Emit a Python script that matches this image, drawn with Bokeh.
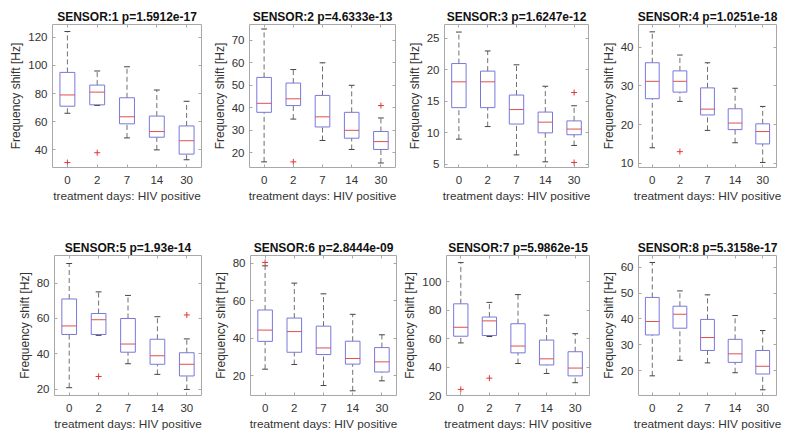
import numpy as np
from bokeh.plotting import figure
from bokeh.models import Range1d, FixedTicker, LinearAxis
from bokeh.layouts import column, row
from bokeh.embed import file_html
from bokeh.resources import INLINE

# ---------------- data ----------------
days = ["0", "2", "7", "14", "30"]
titles = ["SENSOR:1 p=1.5912e-17", "SENSOR:2 p=4.6333e-13",
          "SENSOR:3 p=1.6247e-12", "SENSOR:4 p=1.0251e-18",
          "SENSOR:5 p=1.93e-14", "SENSOR:6 p=2.8444e-09",
          "SENSOR:7 p=5.9862e-15", "SENSOR:8 p=5.3158e-17"]
xlabel = "treatment days: HIV positive"
ylabel = "Frequency shift [Hz]"

s1_lower = [66, 71.5, 48.5, 40, 33]
s1_q1 = [71, 72, 58.5, 49, 37]
s1_med = [79, 81, 63.5, 53, 46.5]
s1_q3 = [95, 86, 77, 64, 57]
s1_upper = [124, 96, 99, 82.5, 74.5]
s1_out_day = ["0", "2"]
s1_out_val = [31, 38]

s2_lower = [16, 35, 25.5, 21.5, 15.5]
s2_q1 = [38, 41, 31.5, 26.5, 21.5]
s2_med = [42, 44, 36, 30, 25]
s2_q3 = [53.5, 51, 45.5, 38, 29.5]
s2_upper = [75, 57, 60, 50, 35.5]
s2_out_day = ["2", "30"]
s2_out_val = [16, 41]

s3_lower = [9, 11, 6.5, 5.4, 8]
s3_q1 = [14, 14, 11.4, 10, 9.7]
s3_med = [18.1, 18.1, 13.7, 11.7, 10.6]
s3_q3 = [21, 19.8, 16, 13.3, 11.9]
s3_upper = [26, 23, 20.8, 17.4, 14.3]
s3_out_day = ["30", "30"]
s3_out_val = [16.4, 5.3]

s4_lower = [14, 26, 18.5, 15.3, 10.2]
s4_q1 = [26.7, 28.4, 22.5, 18.7, 15]
s4_med = [31.2, 31.2, 24, 20.4, 18.2]
s4_q3 = [36, 33.9, 29.5, 24.1, 20.2]
s4_upper = [44, 38, 36, 29.4, 24.7]
s4_out_day = ["2"]
s4_out_val = [13]

s5_lower = [21, 50.5, 34.5, 28.5, 20]
s5_q1 = [51, 51, 41, 34.2, 27.6]
s5_med = [55.8, 59.3, 45.6, 39, 34.2]
s5_q3 = [71, 62.8, 60, 48.3, 40.7]
s5_upper = [91, 75, 73, 61, 48.5]
s5_out_day = ["2", "30"]
s5_out_val = [27.3, 62]

s6_lower = [23.5, 26, 14.8, 12, 17.3]
s6_q1 = [38.3, 32.5, 31.3, 26.2, 22]
s6_med = [44.3, 43.5, 34.8, 29.2, 27.4]
s6_q3 = [55, 50.7, 46.4, 38.4, 35]
s6_upper = [78.5, 69.3, 63.6, 52.7, 41.8]
s6_out_day = ["0"]
s6_out_val = [80.3]

s7_lower = [57, 61.5, 42.5, 35.5, 29]
s7_q1 = [61.7, 62.2, 50, 41.5, 33.8]
s7_med = [68, 72.5, 54.8, 45.8, 39.3]
s7_q3 = [84.5, 75.2, 70.5, 59, 50.8]
s7_upper = [113.5, 85.5, 91, 76.5, 63.5]
s7_out_day = ["0", "2"]
s7_out_val = [24.3, 32.2]

s8_lower = [18, 24, 23, 19.2, 12.6]
s8_q1 = [33.8, 36.4, 27.8, 23.2, 18.7]
s8_med = [39, 41.8, 32.8, 26.5, 21.7]
s8_q3 = [48.3, 44.9, 39.8, 32.1, 27.8]
s8_upper = [61.8, 50.8, 49.3, 41.3, 35.5]
s8_out_day = []
s8_out_val = []

# axis limits and ticks
ylims = [(27.5, 129), (13.5, 77), (4.5, 27.2), (8.9, 45.9),
         (16.6, 95.5), (9.5, 84), (20, 118.5), (10.4, 64.5)]
yticks = [[40, 60, 80, 100, 120], [20, 30, 40, 50, 60, 70],
          [5, 10, 15, 20, 25], [10, 20, 30, 40],
          [20, 40, 60, 80], [20, 40, 60, 80],
          [20, 40, 60, 80, 100], [20, 30, 40, 50, 60]]

sensors = [
    (s1_lower, s1_q1, s1_med, s1_q3, s1_upper, s1_out_day, s1_out_val),
    (s2_lower, s2_q1, s2_med, s2_q3, s2_upper, s2_out_day, s2_out_val),
    (s3_lower, s3_q1, s3_med, s3_q3, s3_upper, s3_out_day, s3_out_val),
    (s4_lower, s4_q1, s4_med, s4_q3, s4_upper, s4_out_day, s4_out_val),
    (s5_lower, s5_q1, s5_med, s5_q3, s5_upper, s5_out_day, s5_out_val),
    (s6_lower, s6_q1, s6_med, s6_q3, s6_upper, s6_out_day, s6_out_val),
    (s7_lower, s7_q1, s7_med, s7_q3, s7_upper, s7_out_day, s7_out_val),
    (s8_lower, s8_q1, s8_med, s8_q3, s8_upper, s8_out_day, s8_out_val),
]

# ---------------- layout / style ----------------
# (width, height, min_border_left, min_border_right, min_border_top, min_border_bottom)
geom = [
    (205, 230, 52, 4, 24, 63), (195, 230, 44, 5, 24, 63),
    (193, 230, 44, 5, 24, 63), (191, 230, 45, 8, 24, 63),
    (205, 206, 54, 4, 25, 41), (195, 206, 45, 4, 25, 41),
    (193, 206, 41, 4, 25, 41), (191, 206, 45, 8, 25, 41),
]

FONT = "Liberation Sans"
FRAME = "#a8a8a8"
TEXT = "#333333"
BOX = "#7878dc"
MED = "#e05050"
WHISK = "#707070"
CAP = "#444444"
OUTC = "#e03838"

pos = np.arange(1, len(days) + 1)
day_pos = {d: float(i + 1) for i, d in enumerate(days)}


def style_axis(ax, size="11.5px", standoff=5, show_labels=True):
    ax.axis_line_color = None
    ax.major_tick_line_color = FRAME
    ax.major_tick_in = 3
    ax.major_tick_out = 0
    ax.minor_tick_line_color = None
    ax.major_label_text_font = FONT
    ax.major_label_text_font_size = size
    ax.major_label_text_color = TEXT if show_labels else None
    ax.major_label_standoff = standoff


figs = []
for k in range(8):
    lower, q1, med, q3, upper, out_day, out_val = sensors[k]
    w, h, mbl, mbr, mbt, mbb = geom[k]
    p = figure(width=w, height=h, x_range=Range1d(0.5, len(days) + 0.5),
               y_range=Range1d(*ylims[k]), output_backend="svg",
               toolbar_location=None, title=titles[k],
               min_border_left=mbl, min_border_right=mbr,
               min_border_top=mbt, min_border_bottom=mbb)
    p.title.text_font = FONT
    p.title.text_font_size = "12px"
    p.title.text_font_style = "bold"
    p.title.text_color = "#111111"
    p.title.align = "center"
    p.title.standoff = 1
    p.xgrid.visible = False
    p.ygrid.visible = False
    p.outline_line_color = FRAME
    p.outline_line_width = 1
    p.background_fill_color = "white"
    p.border_fill_color = "white"

    # bottom axis
    p.xaxis.ticker = FixedTicker(ticks=list(pos))
    p.xaxis.major_label_overrides = {int(i + 1): d for i, d in enumerate(days)}
    style_axis(p.xaxis[0], standoff=8)
    p.xaxis.axis_label = xlabel
    p.xaxis.axis_label_text_font = FONT
    p.xaxis.axis_label_text_font_size = "11.8px"
    p.xaxis.axis_label_text_font_style = "normal"
    p.xaxis.axis_label_text_color = TEXT
    p.xaxis.axis_label_standoff = 2

    # left axis
    p.yaxis.ticker = FixedTicker(ticks=yticks[k])
    style_axis(p.yaxis[0], standoff=5)
    p.yaxis.axis_label = ylabel
    p.yaxis.axis_label_text_font = FONT
    p.yaxis.axis_label_text_font_size = "12px"
    p.yaxis.axis_label_text_font_style = "normal"
    p.yaxis.axis_label_text_color = TEXT
    p.yaxis.axis_label_standoff = 2

    # mirrored ticks (box on), labels not drawn
    ra = LinearAxis(ticker=FixedTicker(ticks=yticks[k]))
    style_axis(ra, size="1px", standoff=0, show_labels=False)
    p.add_layout(ra, "right")
    ta = LinearAxis(ticker=FixedTicker(ticks=list(pos)))
    style_axis(ta, size="1px", standoff=0, show_labels=False)
    p.add_layout(ta, "above")

    # whiskers
    p.segment(x0=pos, x1=pos, y0=q3, y1=upper, line_color=WHISK,
              line_width=1, line_dash="5 3")
    p.segment(x0=pos, x1=pos, y0=lower, y1=q1, line_color=WHISK,
              line_width=1, line_dash="5 3")
    # caps
    p.segment(x0=pos - 0.1, x1=pos + 0.1, y0=upper, y1=upper,
              line_color=CAP, line_width=1)
    p.segment(x0=pos - 0.1, x1=pos + 0.1, y0=lower, y1=lower,
              line_color=CAP, line_width=1)
    # boxes
    p.vbar(x=pos, width=0.5, bottom=q1, top=q3, fill_color=None,
           line_color=BOX, line_width=1)
    # medians
    p.segment(x0=pos - 0.25, x1=pos + 0.25, y0=med, y1=med,
              line_color=MED, line_width=1)
    # outliers
    if out_val:
        p.scatter(x=[day_pos[d] for d in out_day], y=out_val, marker="cross",
                  size=6, line_color=OUTC, line_width=1)
    figs.append(p)

layout = column(row(*figs[:4]), row(*figs[4:]))

open("out.html", "w").write(file_html(layout, INLINE))
